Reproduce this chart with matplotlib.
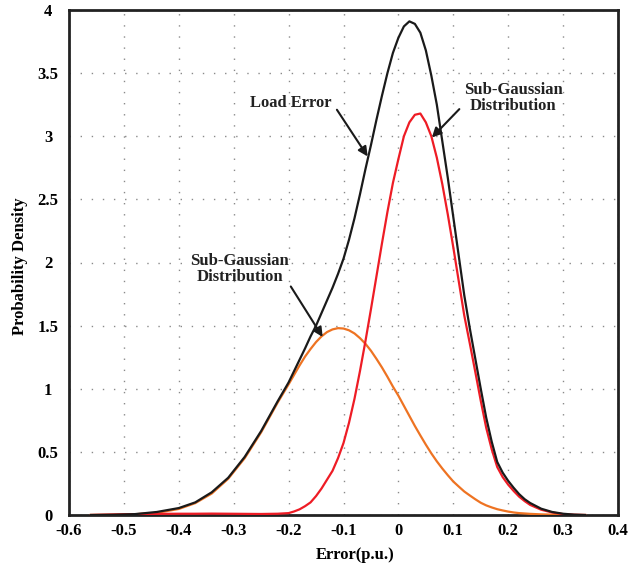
import numpy as np
import matplotlib
matplotlib.use('Agg')
import matplotlib.pyplot as plt

plt.rcParams['font.family'] = ['Liberation Serif', 'DejaVu Serif']
plt.rcParams['font.weight'] = 'bold'

# 误差取值 (p.u.)
err = [-0.56, -0.52, -0.48, -0.44, -0.40, -0.37, -0.34, -0.31, -0.28, -0.25, -0.22,
       -0.20, -0.19, -0.18, -0.17, -0.16, -0.15, -0.14, -0.13, -0.12, -0.11,
       -0.10, -0.09, -0.08, -0.07, -0.06, -0.05, -0.04, -0.03, -0.02, -0.01,
       0.00, 0.01, 0.02, 0.03, 0.04, 0.05, 0.06, 0.07, 0.08, 0.09,
       0.10, 0.11, 0.12, 0.13, 0.14, 0.15, 0.16, 0.17, 0.18, 0.19,
       0.20, 0.21, 0.22, 0.23, 0.24, 0.26, 0.28, 0.30, 0.32, 0.34]

# 负荷误差 (黑)
load_err = [0.0, 0.002, 0.007, 0.024, 0.055, 0.10, 0.18, 0.295, 0.46, 0.665, 0.90,
            1.05, 1.14, 1.23, 1.32, 1.415, 1.50, 1.60, 1.70, 1.80, 1.91,
            2.03, 2.18, 2.35, 2.54, 2.74, 2.93, 3.13, 3.32, 3.50, 3.66,
            3.78, 3.87, 3.91, 3.89, 3.82, 3.68, 3.48, 3.25, 2.96, 2.67,
            2.36, 2.05, 1.74, 1.48, 1.24, 1.00, 0.77, 0.58, 0.42, 0.335,
            0.27, 0.215, 0.165, 0.125, 0.095, 0.05, 0.024, 0.01, 0.003, 0.0]

# 子高斯分布 1 (橙)
sub_g1 = [0.0005, 0.002, 0.006, 0.017, 0.048, 0.094, 0.17, 0.287, 0.45, 0.655, 0.89,
          1.035, 1.11, 1.185, 1.255, 1.315, 1.37, 1.415, 1.449, 1.47, 1.48,
          1.477, 1.463, 1.438, 1.401, 1.356, 1.301, 1.237, 1.169, 1.095, 1.017,
          0.945, 0.865, 0.785, 0.705, 0.63, 0.557, 0.488, 0.425, 0.368, 0.315,
          0.265, 0.225, 0.186, 0.155, 0.125, 0.097, 0.076, 0.06, 0.046, 0.036,
          0.027, 0.02, 0.015, 0.012, 0.009, 0.005, 0.003, 0.001, 0.0, 0.0]

# 子高斯分布 2 (红)
sub_g2 = [0.0, 0.004, 0.007, 0.009, 0.01, 0.01, 0.011, 0.01, 0.009, 0.008, 0.01,
          0.015, 0.028, 0.045, 0.07, 0.10, 0.15, 0.21, 0.28, 0.35, 0.45,
          0.57, 0.73, 0.92, 1.14, 1.378, 1.63, 1.89, 2.15, 2.40, 2.63,
          2.82, 3.00, 3.11, 3.17, 3.18, 3.11, 3.00, 2.83, 2.62, 2.38,
          2.12, 1.85, 1.58, 1.36, 1.135, 0.905, 0.69, 0.52, 0.38, 0.30,
          0.24, 0.19, 0.145, 0.11, 0.08, 0.042, 0.02, 0.007, 0.002, 0.0]

xticks = [-0.6, -0.5, -0.4, -0.3, -0.2, -0.1, 0.0, 0.1, 0.2, 0.3, 0.4]
xtick_labels = ['-0.6', '-0.5', '-0.4', '-0.3', '-0.2', '-0.1', '0', '0.1', '0.2', '0.3', '0.4']
yticks = [0, 0.5, 1, 1.5, 2, 2.5, 3, 3.5, 4]
ytick_labels = ['0', '0.5', '1', '1.5', '2', '2.5', '3', '3.5', '4']

fig = plt.figure(figsize=(6.29, 5.65), dpi=100)
ax = fig.add_axes([69 / 629, 50 / 565, 549 / 629, 505 / 565])

ax.plot(err, sub_g1, color='#EE7322', lw=1.6, zorder=3)
ax.plot(err, sub_g2, color='#EE1C25', lw=1.6, zorder=4)
ax.plot(err, load_err, color='#1a1a1a', lw=1.6, zorder=5)

ax.set_xlim(-0.6, 0.4)
ax.set_ylim(0, 4)
ax.set_xticks(xticks)
ax.set_xticklabels(xtick_labels)
ax.set_yticks(yticks)
ax.set_yticklabels(ytick_labels, ha='center')
ax.tick_params(axis='x', length=0, pad=6, labelsize=12)
ax.tick_params(axis='y', length=0, pad=15, labelsize=12)

ax.grid(True, color='#8a8a8a', linestyle=(0, (1, 7)), linewidth=1.0)
for s in ax.spines.values():
    s.set_linewidth(2.0)
    s.set_color('#222222')

ax.set_xlabel('Error(p.u.)', fontsize=12, fontweight='bold', va='center')
ax.xaxis.set_label_coords(0.521, -0.079)
ax.set_ylabel('Probability Density', fontsize=12, fontweight='bold', va='center')
ax.yaxis.set_label_coords(-0.089, 0.493)

arrow = dict(arrowstyle='-|>', color='#1a1a1a', lw=1.5, mutation_scale=14,
             shrinkA=0, shrinkB=0)

ax.text(-0.196, 3.26, 'Load Error', ha='center', va='center', fontsize=12,
        fontweight='bold', color='#222222')
ax.annotate('', xy=(-0.056, 2.84), xytext=(-0.112, 3.21), arrowprops=arrow, zorder=6)

ax.text(0.209, 3.30, 'Sub-Gaussian\nDistribution', ha='center', va='center',
        fontsize=12, fontweight='bold', color='#222222', linespacing=1.0)
ax.annotate('', xy=(0.061, 2.99), xytext=(0.111, 3.215), arrowprops=arrow, zorder=6)

ax.text(-0.289, 1.945, 'Sub-Gaussian\nDistribution', ha='center', va='center',
        fontsize=12, fontweight='bold', color='#222222', linespacing=1.0)
ax.annotate('', xy=(-0.138, 1.41), xytext=(-0.196, 1.81), arrowprops=arrow, zorder=6)

plt.savefig('out.png', dpi=100)
